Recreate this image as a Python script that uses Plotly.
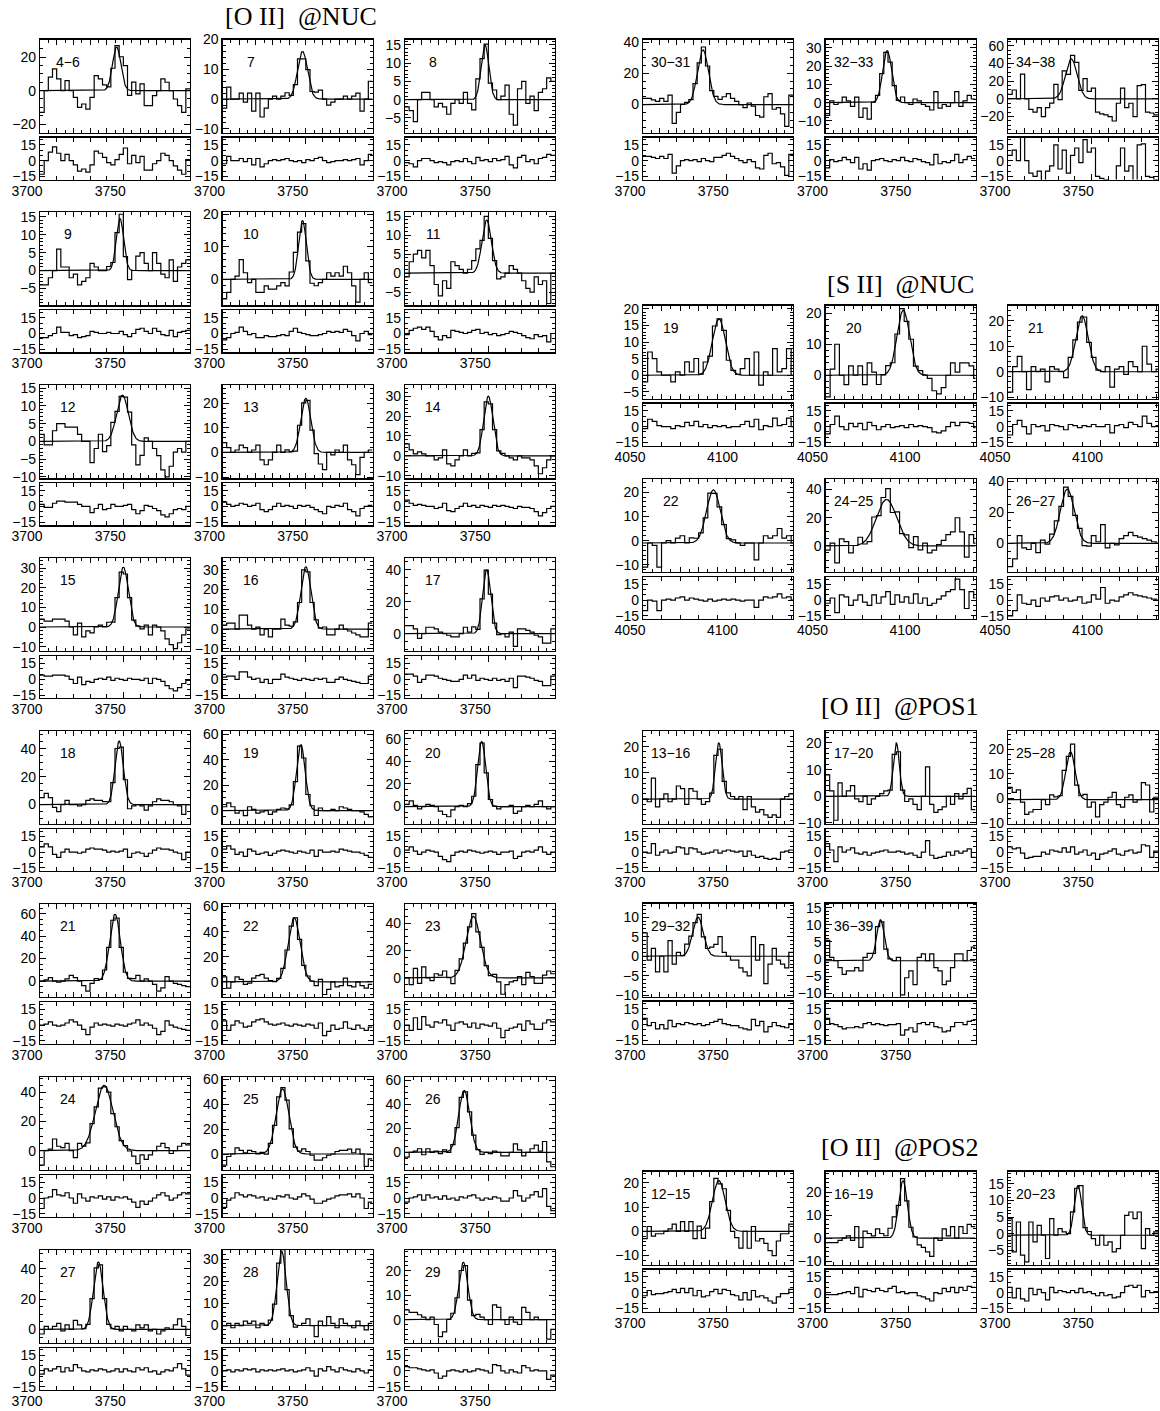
import numpy as np
import plotly.graph_objects as go

W, H = 1160, 1411

# ---------------- [O II] @NUC ----------------
NUC_LABELS = ["4−6", "7", "8", "9", "10", "11", "12", "13", "14", "15", "16", "17",
              "18", "19", "20", "21", "22", "23", "24", "25", "26", "27", "28", "29",
              "30−31", "32−33", "34−38"]
NUC_AMP = [26, 16, 15, 14.5, 18, 14, 13, 22, 30, 30.5, 31.5, 40,
           45.5, 52, 57.5, 59.5, 51, 45, 45, 52.5, 51.5, 44.5, 33.5, 23.5,
           35, 28.5, 45]
NUC_CEN = [3746, 3748, 3748, 3748, 3748, 3749, 3749.5, 3750, 3750, 3750, 3750, 3749,
           3747.5, 3747, 3746, 3745, 3743, 3741, 3738.5, 3736, 3735.5, 3735, 3735.5, 3735,
           3736, 3737, 3738]
NUC_SIG = [2.5, 3.0, 2.3, 2.2, 2.3, 2.8, 3.5, 3.0, 2.8, 3.0, 3.0, 2.4,
           2.5, 2.6, 2.4, 3.2, 3.6, 4.3, 5.3, 3.8, 3.3, 2.9, 2.7, 2.7,
           3.3, 2.7, 3.5]
NUC_BASE = [0] * 27
NUC_YMIN = [-25, -11.2, -9, -9.7, -8, -8.5, -10.4, -10.5, -11.3, -12.3, -11.2, -11,
            -14, -10.7, -15.5, -14.2, -12, -14, -13.3, -12.8, -14.6, -8.8, -7.8, -9.5,
            -17.9, -16.3, -38]
NUC_YMAX = [30.5, 20, 16.5, 16.2, 20.5, 16, 15.8, 27.3, 35.5, 35, 35.8, 47.3,
            52.6, 62.7, 66.7, 68.6, 62, 54, 50.8, 62.1, 62.7, 52.5, 34.2, 28.6,
            41.7, 34.5, 67]
NUC_YSTEP = [20, 10, 5, 5, 10, 5, 5, 10, 10, 10, 10, 20,
             20, 20, 20, 20, 20, 20, 20, 20, 20, 20, 10, 10,
             20, 10, 20]

# residuals (data - fit), 2.5 A bins from 3700 A
RES_NUC_4_6 = [-13, 0, 8, 13, 7, 0, 6, 0, -4, -10, -8, -11, -4, 9, 7, 3, -2, -4, 1, 6,
               12, -3, 5, -2, 4, -9, -9, -3, 0, 7, 5, 0, -5, -9, -13, 1]
RES_NUC_7 = [-3, 4, 0, 0, 2, -1, 2, -4, 2, -6, -3, 0, 1, 0, 1, 2, 0, -1, 0, -2,
             1, 0, 2, 3, 0, -2, -1, 0, 0, 1, 0, 1, 2, -4, 0, 6]
RES_NUC_8 = [-2, -3, -6, 0, 2, 2, 0, -2, -1, -2, -4, -1, 0, -1, 2, -1, -3, 3, 0, 1,
             -1, 2, 0, 1, 4, -4, -7, 3, 5, -1, 1, -3, 2, 3, 6, 5]
RES_NUC_9 = [-4, -4, -2, 0, 6, 1, 1, -2, -1, -4, -3, -2, 2, 1, 0, 0, 1, 0, 0, 2,
             -1, -3, 0, 4, 5, 2, 0, 5, 2, -1, -2, 3, -3, 1, 2, 3]
RES_NUC_10 = [-6, -4, 0, 1, 6, 2, -1, 0, -4, -4, -2, -3, -3, -2, -1, -2, 2, 5, 1, 0,
              -1, -2, -2, -1, 0, 2, 1, 2, 1, 4, 2, -2, -7, 0, 2, -1]
RES_NUC_11 = [-1, 3, 5, 6, 4, 6, 2, -3, -6, -2, -4, 3, 2, 1, 0, 1, 3, 4, 0, 1,
              -1, 0, -2, -1, 0, 2, 1, 0, -2, -4, -5, -1, -3, -2, -8, 0]
RES_NUC_12 = [2, -1, -1, 3, 5, 5, 4, 4, 4, 2, 0, 0, -6, -2, 2, -3, -2, 2, 0, 0,
              1, 2, -3, -7, -4, 1, 0, -2, -4, -8, -10, -7, -3, -2, -3, 0]
RES_NUC_13 = [4, 2, 0, 1, 3, 2, 0, 1, 3, -3, -5, -3, 0, 3, 0, 1, 0, -2, 1, 0,
              1, -1, -3, -5, -7, 0, -1, 1, 0, 3, -3, -5, -9, -2, 0, 1]
RES_NUC_14 = [6, 3, 1, 2, 1, 0, 0, -2, -1, 3, -4, -5, -2, 0, 3, 0, 1, -1, 1, 0,
              -1, 1, 0, 1, 0, -1, -2, 0, -1, -1, -2, -5, -9, -6, -2, 0]
RES_NUC_15 = [4, 3, 3, 4, 4, 4, 3, 0, -4, 2, -5, -2, -3, 0, 1, 0, 2, -1, 1, 0,
              -1, 1, 0, 0, -1, 1, -4, 1, 0, -2, -6, -9, -11, -8, -4, -1]
RES_NUC_16 = [2, 3, 3, 0, 7, 7, 2, 0, 1, -3, 0, -4, 0, 0, 5, 2, 1, 0, -1, 1,
              0, -1, 1, 0, 1, -3, -3, 0, 2, 0, -1, -2, -3, -4, -4, 3]
RES_NUC_17 = [5, 5, 3, -3, 0, 4, 4, 3, 1, 0, -1, -2, -2, 0, 4, 1, 4, -1, 1, 0,
              -1, 1, -1, 0, -2, 1, -8, 3, 3, 2, 1, -1, -2, -6, -6, 3]
RES_NUC_18 = [5, 8, 5, -2, -5, 0, 3, 0, 0, -1, 0, 3, 4, 3, 3, 2, 0, 1, 0, 1,
              3, -5, -1, 0, -1, -4, -1, 2, 4, 3, 3, 2, 0, -1, -7, 0]
RES_NUC_19 = [3, 6, 3, -2, 0, -4, 3, 1, -2, -1, 0, -3, -1, 1, 2, 1, 0, -1, 1, 0,
              -1, 2, -4, 2, 0, 0, 1, 0, 3, 2, 1, 0, 0, -1, -3, -5]
RES_NUC_20 = [2, 5, 1, -2, 0, 2, 1, 0, -4, -7, -9, -3, 0, 1, 0, 2, 1, 0, -1, 0,
              1, 0, -2, 0, 0, 1, -6, -4, 0, 1, 0, 2, 5, 0, -2, 0]
RES_NUC_21 = [0, 1, 3, 0, -1, 0, 2, 5, 3, 0, -4, -9, -2, 2, 0, 1, 0, -1, 1, 0,
              -1, 1, 2, 5, 0, 2, 0, -3, -9, -6, 4, 0, -2, -3, -4, -5]
RES_NUC_22 = [4, -5, 0, 4, 2, -2, -1, 3, 5, 6, 3, 1, 0, 1, 2, 0, -1, 1, 0, -1,
              1, 0, -3, 2, -10, -6, 0, -4, -3, 3, -3, -4, 0, -3, -5, -2]
RES_NUC_23 = [0, -5, 7, -4, 8, 0, -2, 3, 2, 5, 0, -5, 2, 3, 1, -2, 2, -3, 1, 0,
              -1, 2, -3, -12, -5, -3, -2, 1, -5, 4, 1, -4, -4, 2, 5, 3]
RES_NUC_24 = [-10, 0, 1, 8, 3, 2, 5, 0, -5, 4, 0, -3, 1, 0, 2, -1, 1, -2, 1, 0,
              1, -1, -4, -9, -3, -6, -3, 0, 3, 5, 2, -2, 0, 3, 5, 4]
RES_NUC_25 = [-9, -2, 0, 5, 3, 1, 3, 2, 0, 1, -2, 0, -1, 2, 1, 3, 0, -1, 1, 4,
              2, -1, -5, -5, -3, -1, 0, 2, 3, 3, 4, 1, 4, 0, -10, -4]
RES_NUC_26 = [-4, 0, 1, 3, -2, 3, 0, 1, -1, 2, -1, 0, -2, 1, 0, 2, 3, 0, -2, 0,
              -1, 1, 0, -3, -3, 0, 7, 2, -3, 0, 3, 6, 1, 9, -8, -12]
RES_NUC_27 = [-3, 2, 0, 2, 4, -1, 3, 0, 6, 3, 0, -1, 1, 0, 2, 1, -1, 0, 2, -1,
              2, 0, -1, 3, 1, 3, -1, 0, -3, -1, 1, 0, 3, 7, 2, -4]
RES_NUC_28 = [0, 1, -1, 1, 0, 2, 1, 2, -1, 1, 0, 1, 0, 1, 2, 0, 1, -1, 0, 1,
              3, 0, -5, 2, 0, 4, 1, -1, 3, 1, 0, -1, 2, 0, -2, 1]
RES_NUC_29 = [4, 3, 3, 2, 1, 0, 1, -2, -7, -5, 0, 1, 0, -1, 1, -1, 0, 2, 1, 0,
              -2, 6, 5, 0, -2, 1, -1, -2, 5, 3, 0, 1, 0, 0, -8, -4]
RES_NUC_30_31 = [4, 4, 3, 2, 4, 2, 6, -12, -5, 0, 1, 0, 1, -1, 2, 0, -1, 3, 3, 5,
                 7, 4, 2, 0, -2, 1, -1, -7, -8, 5, 7, -3, -2, -6, -14, 6]
RES_NUC_32_33 = [-7, 1, -1, 0, 3, 1, -2, 3, -8, -3, -9, 0, 1, 2, 0, -1, 1, 0, 3, 0,
                 -1, 2, 1, -1, -2, -4, 6, -3, -1, -2, 0, 6, -2, 1, 4, 2]
RES_NUC_34_38 = [5, 10, 0, 28, 0, -12, -15, -10, -20, -10, -5, 15, -8, 10, -12, 5, 12, -2, 20, 8,
                 12, -15, -17, -18, -20, -25, -5, 12, -10, -5, -20, 15, 16, -15, -16, -18]
NUC_RES = [RES_NUC_4_6, RES_NUC_7, RES_NUC_8, RES_NUC_9, RES_NUC_10, RES_NUC_11,
           RES_NUC_12, RES_NUC_13, RES_NUC_14, RES_NUC_15, RES_NUC_16, RES_NUC_17,
           RES_NUC_18, RES_NUC_19, RES_NUC_20, RES_NUC_21, RES_NUC_22, RES_NUC_23,
           RES_NUC_24, RES_NUC_25, RES_NUC_26, RES_NUC_27, RES_NUC_28, RES_NUC_29,
           RES_NUC_30_31, RES_NUC_32_33, RES_NUC_34_38]

# ---------------- [S II] @NUC ----------------
SII_LABELS = ["19", "20", "21", "22", "24−25", "26−27"]
SII_AMP = [17, 21, 22, 22, 33, 35]
SII_CEN = [4091, 4092, 4090, 4088, 4083, 4082]
SII_SIG = [3.5, 3.4, 3.3, 3.7, 5.5, 3.7]
SII_BASE = [0, 0, 0, -1, 0, 0]
SII_YMIN = [-7, -7.5, -10.5, -13, -18.5, -18.5]
SII_YMAX = [21, 22.5, 26, 25.5, 47.5, 41.5]
SII_YSTEP = [5, 10, 10, 10, 20, 20]
RES_SII_19 = [-2, 7, 5, 1, 0, 0, -2, 1, 0, 4, 1, 5, 0, 2, -1, 1, 0, 1, -1, 0,
              0, 2, 5, 0, 7, -3, 1, 0, 8, 1, 2, 8, 0]
RES_SII_20 = [-7, 2, 10, 0, -3, 3, 0, 3, -3, 4, 1, -3, 0, 2, -1, 0, 1, -1, 2, 0,
              1, 0, -1, -5, -6, -4, 0, 4, 1, 4, 4, 3, -1]
RES_SII_21 = [-8, 2, 6, 0, -7, 2, 0, 1, -4, 2, 1, 0, -3, 2, 1, -1, 1, 0, 2, 0,
              0, 2, -6, 1, 2, -1, 4, 2, 0, 10, 3, 0, 1]
RES_SII_22 = [-10, 0, -1, -10, 0, 1, 0, 2, 3, 0, 2, 1, 0, -1, 1, -1, 0, 1, 0, 1,
              0, -1, 0, 0, -7, 0, 3, 2, 3, 6, 2, 3, 0]
RES_SII_24_25 = [-3, 2, -12, 5, 3, -5, 0, 5, -2, -5, 5, -3, 3, 8, -4, 5, -2, 3, -3, 6,
                 -3, 2, -5, -3, 1, 4, 8, 10, 20, 10, -8, 8, 2]
RES_SII_26_27 = [-15, -10, 5, -3, -4, 0, -6, 2, -1, 3, 4, 0, 2, -1, 0, 3, -3, -2, 5, 1,
                 12, -3, 0, -1, 3, 5, 7, 5, 4, 3, 2, 1, 0]
SII_RES = [RES_SII_19, RES_SII_20, RES_SII_21, RES_SII_22, RES_SII_24_25, RES_SII_26_27]

# ---------------- [O II] @POS1 ----------------
POS1_LABELS = ["13−16", "17−20", "25−28", "29−32", "36−39"]
POS1_AMP = [21.5, 20, 19.5, 10, 12]
POS1_CEN = [3745.5, 3742.5, 3737.5, 3733, 3733]
POS1_SIG = [2.0, 1.8, 2.8, 3.2, 2.3]
POS1_BASE = [0, 0, -0.5, 0, -0.5]
POS1_YMIN = [-9.5, -10.4, -10.4, -10.3, -11]
POS1_YMAX = [26, 24.5, 27.5, 13.5, 16.3]
POS1_YSTEP = [10, 10, 10, 5, 5]
RES_POS1_13_16 = [0, -1, 8, -3, 0, 2, -1, 0, 5, 4, -2, 4, 3, 0, -2, -1, 0, 2, -1, 1,
                  2, 1, 0, 1, -4, 1, -3, -5, -4, -6, -7, -6, -7, 0, 1, 2]
RES_POS1_17_20 = [8, 2, -9, 5, 0, 2, 4, -1, -2, 0, -3, -1, 0, 1, 2, 0, 0, 1, 0, -2,
                  -1, -3, -5, 0, 11, -3, -6, -5, -4, 0, -3, 1, -1, 1, 3, -5]
RES_POS1_25_28 = [5, 3, 4, -1, -6, -5, -4, -4, 0, -2, 2, 1, 0, 4, 0, 5, -2, 0, 2, -3,
                  -1, -7, -2, -1, 1, 3, -2, -3, 1, 2, -1, 0, 7, 6, -5, 1]
RES_POS1_29_32 = [6, -1, 2, -4, 0, -4, 4, -2, 1, 0, 2, 1, 0, 1, -1, 0, 2, 3, 5, 1,
                  0, -1, -1, -3, -4, -5, 5, -1, 3, -7, -2, 2, -1, -2, -3, 1]
RES_POS1_36_39 = [6, 1, 0, -2, -4, -3, -3, -2, -3, 1, 2, 0, 1, 0, -1, 0, 0, 1, -10, -5,
                  -3, -7, 1, 2, 0, 2, -2, -3, -7, -6, -2, 2, 2, 0, 3, 4]
POS1_RES = [RES_POS1_13_16, RES_POS1_17_20, RES_POS1_25_28, RES_POS1_29_32, RES_POS1_36_39]

# ---------------- [O II] @POS2 ----------------
POS2_LABELS = ["12−15", "16−19", "20−23"]
POS2_AMP = [21, 25, 15]
POS2_CEN = [3745.5, 3746.5, 3742]
POS2_SIG = [3.8, 2.6, 2.2]
POS2_BASE = [0, 0, -0.5]
POS2_YMIN = [-13.7, -11.5, -9.3]
POS2_YMAX = [24.7, 29, 18.7]
POS2_YSTEP = [10, 10, 5]
RES_POS2_12_15 = [-3, 2, -2, -1, -1, 0, 1, 3, 0, 4, 0, 4, -3, 2, -4, -3, 1, 3, -1, 3,
                  2, -2, -3, -7, 0, -7, 2, -4, -3, -5, -8, -10, -4, -1, -1, 3]
RES_POS2_16_19 = [-2, -2, -2, -1, 0, 1, -1, 5, -4, 3, 2, 1, 4, 2, 1, 4, 6, 0, 1, -1,
                  0, 0, -3, -4, -6, -8, 0, -1, 4, 1, 5, 0, 5, 2, 6, 5]
RES_POS2_20_23 = [5, -5, 4, -6, -8, 4, -2, 3, 0, -7, 5, 0, 2, 1, 0, 2, 0, 4, 0, 1,
                  -1, -3, 0, -3, -2, -5, -4, 0, 6, 7, 5, 7, -4, 2, 0, 1]
POS2_RES = [RES_POS2_12_15, RES_POS2_16_19, RES_POS2_20_23]

OII_XRANGE = [3700, 3790]
SII_XRANGE = [4050, 4131]
BIN_W = 2.5
RES_YRANGE = [-18, 22]

TITLES = ["[O II]\u00a0\u00a0@NUC", "[S II]\u00a0\u00a0@NUC", "[O II]\u00a0\u00a0@POS1", "[O II]\u00a0\u00a0@POS2"]

# ---------------- layout geometry ----------------
PW = 150
MAIN_H, GAP, RES_H = 93, 5, 42
LEFT_X = [40, 222.5, 405]
RIGHT_X = [643, 825.5, 1008]
LEFT_TOPS = [39.5 + 172.9 * i for i in range(8)]

TICKFONT = dict(family="Liberation Sans, Arial, sans-serif", size=14, color="black")

fig = go.Figure()
layout_axes = {}
annotations = []
n_ax = [0]


def axname(i):
    return ("xaxis" if i == 1 else f"xaxis{i}"), ("yaxis" if i == 1 else f"yaxis{i}"), \
           ("x" if i == 1 else f"x{i}"), ("y" if i == 1 else f"y{i}")


def base_axis():
    return dict(showline=True, linecolor="black", linewidth=1.2, mirror="allticks",
                ticks="inside", tickcolor="black", tickwidth=1, showgrid=False,
                zeroline=False, tickfont=TICKFONT, fixedrange=True, automargin=False)


def add_panel(px, top, xr, res, amp, cen, sig, base, ymin, ymax, ystep, label):
    n_ax[0] += 1
    a = n_ax[0]
    n_ax[0] += 1
    b = n_ax[0]
    xa_k, ya_k, xa, ya = axname(a)
    xb_k, yb_k, xb, yb = axname(b)
    xd = [px / W, (px + PW) / W]
    yd_main = [1 - (top + MAIN_H) / H, 1 - top / H]
    yd_res = [1 - (top + MAIN_H + GAP + RES_H) / H, 1 - (top + MAIN_H + GAP) / H]

    res = np.asarray(res, dtype=float)
    nb = len(res)
    edges = xr[0] + BIN_W * np.arange(nb + 1)
    cents = edges[:-1] + BIN_W / 2
    model_c = base + amp * np.exp(-0.5 * ((cents - cen) / sig) ** 2)
    data = model_c + res
    xs = np.linspace(xr[0], xr[1], 400)
    fit = base + amp * np.exp(-0.5 * ((xs - cen) / sig) ** 2)

    fig.add_trace(go.Scatter(x=edges, y=np.append(data, data[-1]), mode="lines",
                             line=dict(color="black", width=1.2, shape="hv"),
                             xaxis=xa, yaxis=ya, hoverinfo="skip"))
    fig.add_trace(go.Scatter(x=xs, y=fit, mode="lines",
                             line=dict(color="black", width=1.2),
                             xaxis=xa, yaxis=ya, hoverinfo="skip"))
    fig.add_trace(go.Scatter(x=edges, y=np.append(res, res[-1]), mode="lines",
                             line=dict(color="black", width=1.2, shape="hv"),
                             xaxis=xb, yaxis=yb, hoverinfo="skip"))

    minor_y = {20: 5, 10: 2, 5: 1}[ystep]
    ax = base_axis()
    ax.update(domain=xd, range=xr, anchor=ya, dtick=10, tick0=xr[0], ticklen=5,
              showticklabels=False,
              minor=dict(dtick=5, tick0=xr[0], ticklen=3, ticks="inside", tickcolor="black", showgrid=False))
    layout_axes[xa_k] = ax
    ay = base_axis()
    ay.update(domain=yd_main, range=[ymin, ymax], anchor=xa, dtick=ystep, tick0=0, ticklen=6,
              minor=dict(dtick=minor_y, tick0=0, ticklen=3, ticks="inside", tickcolor="black", showgrid=False))
    layout_axes[ya_k] = ay
    bx = base_axis()
    bx.update(domain=xd, range=xr, anchor=yb, dtick=50, tick0=xr[0], ticklen=6,
              ticklabelshift=-13, ticklabelstandoff=-2,
              minor=dict(dtick=10, tick0=xr[0], ticklen=4, ticks="inside", tickcolor="black", showgrid=False))
    layout_axes[xb_k] = bx
    by = base_axis()
    by.update(domain=yd_res, range=RES_YRANGE, anchor=xb, dtick=15, tick0=0, ticklen=5,
              minor=dict(dtick=5, tick0=0, ticklen=3, ticks="inside", tickcolor="black", showgrid=False))
    layout_axes[yb_k] = by

    annotations.append(dict(x=(px + 28) / W, y=1 - (top + 22) / H, xref="paper", yref="paper",
                            text=label, showarrow=False, xanchor="center", yanchor="middle",
                            font=dict(family="Liberation Sans, Arial, sans-serif", size=14, color="black")))


# [O II] @NUC: left block 8x3, plus first right row
for k in range(24):
    r, c = divmod(k, 3)
    add_panel(LEFT_X[c], LEFT_TOPS[r], OII_XRANGE, NUC_RES[k], NUC_AMP[k], NUC_CEN[k], NUC_SIG[k],
              NUC_BASE[k], NUC_YMIN[k], NUC_YMAX[k], NUC_YSTEP[k], NUC_LABELS[k])
for j in range(3):
    k = 24 + j
    add_panel(RIGHT_X[j], 39.5, OII_XRANGE, NUC_RES[k], NUC_AMP[k], NUC_CEN[k], NUC_SIG[k],
              NUC_BASE[k], NUC_YMIN[k], NUC_YMAX[k], NUC_YSTEP[k], NUC_LABELS[k])

SII_TOPS = [305.5, 479]
for k in range(6):
    r, c = divmod(k, 3)
    add_panel(RIGHT_X[c], SII_TOPS[r], SII_XRANGE, SII_RES[k], SII_AMP[k], SII_CEN[k], SII_SIG[k],
              SII_BASE[k], SII_YMIN[k], SII_YMAX[k], SII_YSTEP[k], SII_LABELS[k])

POS1_TOPS = [731, 903.5]
for k in range(5):
    r, c = divmod(k, 3)
    add_panel(RIGHT_X[c], POS1_TOPS[r], OII_XRANGE, POS1_RES[k], POS1_AMP[k], POS1_CEN[k], POS1_SIG[k],
              POS1_BASE[k], POS1_YMIN[k], POS1_YMAX[k], POS1_YSTEP[k], POS1_LABELS[k])

for k in range(3):
    add_panel(RIGHT_X[k], 1171.5, OII_XRANGE, POS2_RES[k], POS2_AMP[k], POS2_CEN[k], POS2_SIG[k],
              POS2_BASE[k], POS2_YMIN[k], POS2_YMAX[k], POS2_YSTEP[k], POS2_LABELS[k])

TITLE_POS = [(301, 16), (900, 285), (900, 706), (900, 1147)]
for t, (tx, ty) in zip(TITLES, TITLE_POS):
    annotations.append(dict(x=tx / W, y=1 - ty / H, xref="paper", yref="paper", text=t,
                            showarrow=False, xanchor="center", yanchor="middle",
                            font=dict(family="Liberation Serif, Times New Roman, serif", size=26, color="black")))

fig.update_layout(width=W, height=H, margin=dict(l=0, r=0, t=0, b=0, autoexpand=False),
                  paper_bgcolor="white", plot_bgcolor="white", showlegend=False,
                  annotations=annotations, **layout_axes)

fig.write_html("out.html", config={"displayModeBar": False, "staticPlot": True},
               post_script="document.body.style.margin='0px';document.body.style.overflow='hidden';")
